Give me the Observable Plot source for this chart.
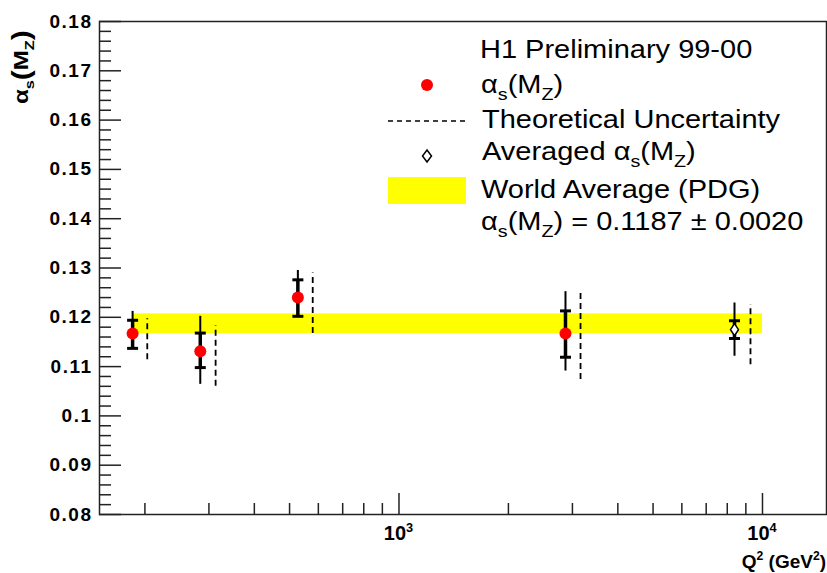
<!DOCTYPE html>
<html><head><meta charset="utf-8">
<script src="https://cdn.jsdelivr.net/npm/d3@7"></script>
<script src="https://cdn.jsdelivr.net/npm/@observablehq/plot@0.6"></script>
<style>body{margin:0;background:#fff}</style>
</head><body><div id="chart"></div>
<script>
// ---- data ----
const q2 = [185, 284, 527, 2871];
const alphaS = [0.1167, 0.1131, 0.1240, 0.1167];
const statLo = [0.1137, 0.1098, 0.1202, 0.1119];
const statHi = [0.1194, 0.1168, 0.1276, 0.1213];
const totLo = [0.1137, 0.1064, 0.1202, 0.1091];
const totHi = [0.1212, 0.1202, 0.1295, 0.1252];
const q2Theory = [203, 313, 579, 3158];
const theoLo = [0.1114, 0.1060, 0.1167, 0.1074];
const theoHi = [0.1197, 0.1183, 0.1290, 0.1256];

const q2Avg = [8375];
const alphaAvg = [0.1175];
const avgStatLo = [0.1157];
const avgStatHi = [0.1193];
const avgTotLo = [0.1121];
const avgTotHi = [0.1229];
const q2AvgTheory = [9268];
const avgTheoLo = [0.1104];
const avgTheoHi = [0.1226];

const worldAvg = 0.1187;
const worldErr = 0.0020;
const worldQ2 = [185, 10000];

const yMajor = [0.08, 0.09, 0.10, 0.11, 0.12, 0.13, 0.14, 0.15, 0.16, 0.17, 0.18];
const yLabels = ["0.08", "0.09", "0.1", "0.11", "0.12", "0.13", "0.14", "0.15", "0.16", "0.17", "0.18"];
const yMinor = [0.082,0.084,0.086,0.088,0.092,0.094,0.096,0.098,0.102,0.104,0.106,0.108,
  0.112,0.114,0.116,0.118,0.122,0.124,0.126,0.128,0.132,0.134,0.136,0.138,0.142,0.144,0.146,0.148,
  0.152,0.154,0.156,0.158,0.162,0.164,0.166,0.168,0.172,0.174,0.176,0.178];
const xMajor = [1000, 10000];
const xLabelBase = ["10", "10"];
const xLabelExp = ["3", "4"];
const xMinor = [200, 300, 400, 500, 600, 700, 800, 900, 2000, 3000, 4000, 5000, 6000, 7000, 8000, 9000];

// ---- tables ----
const pts = q2.map((q, i) => ({q, a: alphaS[i], sLo: statLo[i], sHi: statHi[i], tLo: totLo[i], tHi: totHi[i],
  qt: q2Theory[i], thLo: theoLo[i], thHi: theoHi[i]}));
const avg = q2Avg.map((q, i) => ({q, a: alphaAvg[i], sLo: avgStatLo[i], sHi: avgStatHi[i], tLo: avgTotLo[i], tHi: avgTotHi[i],
  qt: q2AvgTheory[i], thLo: avgTheoLo[i], thHi: avgTheoHi[i]}));
const all = pts.concat(avg);
const band = [{x1: worldQ2[0], x2: worldQ2[1], y1: worldAvg - worldErr, y2: worldAvg + worldErr}];

const FONT = "'Liberation Sans', Arial, Helvetica, sans-serif";
const capSym = {draw(ctx) { ctx.moveTo(-5.5, 0); ctx.lineTo(5.5, 0); }};
const diamondSym = {draw(ctx) { ctx.moveTo(0, -6); ctx.lineTo(4, 0); ctx.lineTo(0, 6); ctx.lineTo(-4, 0); ctx.closePath(); }};

const plot = Plot.plot({
  width: 827, height: 573,
  marginLeft: 99, marginRight: 1, marginTop: 21, marginBottom: 59,
  style: {fontFamily: FONT, background: "white", color: "black"},
  x: {type: "log", domain: [150, 15000]},
  y: {domain: [0.08, 0.18]},
  marks: [
    Plot.rect(band, {x1: "x1", x2: "x2", y1: "y1", y2: "y2", fill: "#ffff00"}),
    Plot.ruleX(all, {x: "q", y1: "tLo", y2: "tHi", stroke: "black", strokeWidth: 2}),
    Plot.ruleX(all, {x: "q", y1: "sLo", y2: "sHi", stroke: "black", strokeWidth: 3.5}),
    Plot.dot(all, {x: "q", y: "sLo", symbol: capSym, stroke: "black", strokeWidth: 3, fill: "none"}),
    Plot.dot(all, {x: "q", y: "sHi", symbol: capSym, stroke: "black", strokeWidth: 3, fill: "none"}),
    Plot.ruleX(all, {x: "qt", y1: "thLo", y2: "thHi", stroke: "black", strokeWidth: 1.8, strokeDasharray: "6,4"}),
    Plot.dot(pts, {x: "q", y: "a", r: 6, fill: "red", stroke: "none"}),
    Plot.dot(avg, {x: "q", y: "a", symbol: diamondSym, fill: "white", stroke: "black", strokeWidth: 1.5}),
    Plot.frame({stroke: "#222", strokeWidth: 1.5}),
    Plot.axisY(yMajor, {tickSize: -22, fill: "none", label: null, strokeWidth: 1.5, stroke: "#222"}),
    Plot.axisY(yMinor, {tickSize: -12, fill: "none", label: null, strokeWidth: 1.5, stroke: "#222"}),
    Plot.axisY(yMajor, {tickSize: 0, tickPadding: 7, label: null, fontSize: 19, fontWeight: "bold",
      tickFormat: d => yLabels[yMajor.indexOf(d)]}),
    Plot.axisX(xMajor, {tickSize: -21, fill: "none", label: null, strokeWidth: 1.5, stroke: "#222"}),
    Plot.axisX(xMinor, {tickSize: -11, fill: "none", label: null, strokeWidth: 1.5, stroke: "#222"})
  ]
});
document.getElementById("chart").appendChild(plot);

const svg = d3.select(plot);
svg.selectAll("g[aria-label$='tick label']").attr("letter-spacing", "1.5");

// ---- rich text helper ----
const g = svg.append("g").attr("font-family", FONT).attr("fill", "black").attr("text-anchor", "start");
function richText(parent, transform, parts, size, weight) {
  const t = parent.append("text").attr("transform", transform).attr("font-size", size)
    .attr("font-weight", weight || "normal").attr("text-anchor", "start");
  let shift = 0;
  parts.forEach(p => {
    const [str, kind] = p;
    const s = t.append("tspan").text(str);
    let target = 0, fs = size;
    if (kind === "sub") { target = size * 0.28; fs = size * 0.68; }
    if (kind === "sup") { target = -size * 0.42; fs = size * 0.64; }
    if (kind === "big") { fs = size * 1.25; target = size * 0.08; }
    s.attr("dy", target - shift).attr("font-size", fs);
    shift = target;
  });
  return t;
}

// ---- x tick labels (positioned by the plot's x scale) ----
const xs = plot.scale("x");
xMajor.forEach((v, i) => {
  richText(g, `translate(${xs.apply(v)},540)`, [[xLabelBase[i]], [xLabelExp[i], "sup"]], 20, "bold")
    .attr("text-anchor", "middle");
});

// ---- legend ----
const alphaParts = [["α"], ["s", "sub"], ["(M"], ["Z", "sub"], [")"]];
const L = 25, SX = "scale(1.16,1)";
richText(g, `translate(480,58) ${SX}`, [["H1 Preliminary 99-00"]], L);
g.append("circle").attr("cx", 427).attr("cy", 85).attr("r", 6).attr("fill", "red");
richText(g, `translate(481,93) ${SX}`, alphaParts, L);
g.append("line").attr("x1", 388).attr("x2", 465).attr("y1", 121).attr("y2", 121)
  .attr("stroke", "black").attr("stroke-width", 1.5).attr("stroke-dasharray", "5,4");
richText(g, `translate(482,128) ${SX}`, [["Theoretical Uncertainty"]], L);
g.append("path").attr("d", "M427,150L431.5,156L427,162L422.5,156Z").attr("fill", "white").attr("stroke", "black").attr("stroke-width", 1.5);
richText(g, `translate(482,160) ${SX}`, [["Averaged "], ["α"], ["s", "sub"], ["(M"], ["Z", "sub"], [")"]], L);
g.append("rect").attr("x", 388).attr("y", 177).attr("width", 78).attr("height", 27).attr("fill", "#ffff00");
richText(g, `translate(481,198) ${SX}`, [["World Average (PDG)"]], L);
richText(g, `translate(481,230) ${SX}`, alphaParts.concat([[" = 0.1187 ± 0.0020"]]), L);

// ---- axis titles ----
richText(g, "translate(28,104) rotate(-90) scale(1.2,1)",
  [["α"], ["s", "sub"], ["(", "big"], ["M"], ["Z", "sub"], [")", "big"]], 20, "bold");
richText(g, "translate(826,568)", [["Q"], ["2", "sup"], [" (GeV"], ["2", "sup"], [")"]], 19, "bold")
  .attr("text-anchor", "end");
</script>
</body></html>
